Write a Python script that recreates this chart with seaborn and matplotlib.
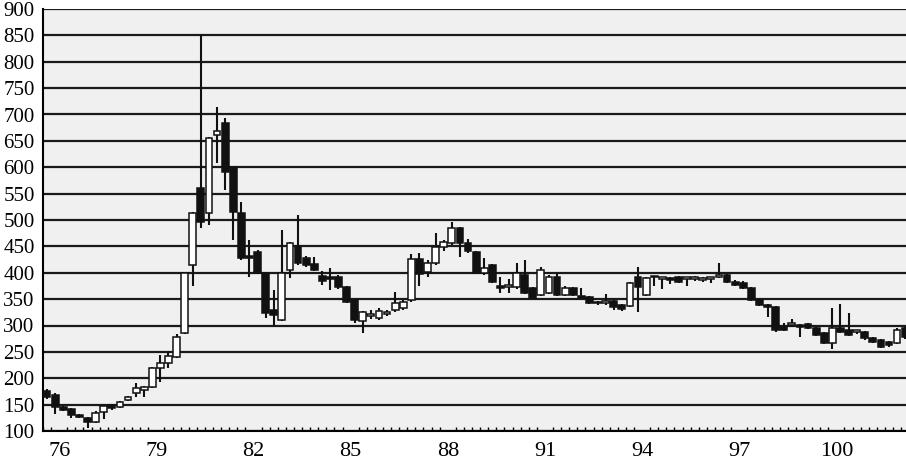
import numpy as np
import pandas as pd
import seaborn as sns
import matplotlib.pyplot as plt
from matplotlib.ticker import MultipleLocator

# Quarterly gold price candles, starting 1975 Q3
opens = [175, 168, 145, 141, 130, 124, 117, 136, 149, 145,
         159, 172, 178, 184, 219, 229, 240, 286, 415, 560,
         513, 661, 684, 601, 513, 430, 439, 399, 329, 310,
         405, 449, 428, 417, 394, 391, 392, 373, 348, 308,
         318, 314, 322, 329, 333, 348, 426, 402, 419, 449,
         456, 485, 456, 439, 399, 415, 374, 373, 373, 396,
         371, 358, 362, 392, 358, 371, 356, 354, 344, 343,
         346, 339, 337, 392, 358, 391, 389, 389, 392, 389,
         388, 387, 388, 392, 396, 383, 380, 371, 348, 339,
         335, 297, 301, 300, 303, 295, 286, 267, 295, 292,
         288, 288, 276, 273, 269, 267, 295]
highs = [180, 172, 147, 143, 132, 126, 138, 150, 151, 157,
         166, 191, 186, 222, 244, 251, 284, 400, 515, 850,
         658, 714, 693, 603, 534, 462, 444, 401, 367, 481,
         458, 510, 432, 430, 403, 409, 395, 375, 350, 328,
         329, 334, 330, 364, 348, 436, 438, 424, 476, 462,
         496, 487, 464, 441, 428, 417, 392, 388, 418, 424,
         373, 410, 395, 400, 374, 373, 372, 356, 346, 360,
         348, 341, 383, 411, 392, 394, 392, 392, 394, 392,
         393, 391, 392, 418, 398, 386, 384, 373, 350, 341,
         337, 305, 312, 302, 305, 297, 288, 333, 341, 324,
         292, 290, 278, 275, 271, 295, 298]
lows = [160, 133, 138, 125, 124, 106, 115, 122, 140, 143,
        157, 165, 165, 182, 193, 219, 238, 284, 375, 484,
        490, 608, 557, 462, 425, 392, 397, 314, 301, 308,
        390, 415, 410, 403, 377, 367, 370, 343, 305, 286,
        312, 310, 318, 326, 330, 345, 375, 392, 415, 442,
        452, 430, 438, 397, 396, 380, 362, 362, 370, 360,
        350, 356, 360, 355, 356, 356, 350, 340, 339, 338,
        330, 327, 335, 326, 355, 375, 369, 378, 380, 374,
        385, 383, 380, 390, 381, 375, 369, 346, 337, 316,
        288, 290, 298, 278, 293, 280, 265, 255, 285, 280,
        284, 273, 266, 257, 260, 265, 275]
closes = [165, 145, 140, 130, 126, 117, 134, 147, 143, 155,
          164, 181, 183, 219, 229, 242, 278, 399, 513, 496,
          655, 669, 591, 515, 428, 428, 399, 324, 320, 399,
          456, 418, 415, 405, 385, 389, 373, 345, 310, 326,
          321, 327, 325, 342, 345, 426, 398, 419, 449, 458,
          485, 456, 441, 399, 409, 382, 372, 374, 399, 362,
          352, 405, 392, 358, 371, 358, 353, 343, 342, 346,
          335, 331, 380, 373, 390, 392, 390, 387, 383, 390,
          392, 388, 390, 396, 383, 377, 371, 348, 339, 335,
          292, 292, 305, 298, 295, 282, 267, 295, 288, 282,
          289, 276, 269, 259, 263, 292, 278]

year_ticks = [76, 79, 82, 85, 88, 91, 94, 97, 100]
price_ticks = list(range(100, 901, 50))

quarters = pd.period_range('1975Q3', periods=len(opens), freq='Q')
df = pd.DataFrame({
    'open': opens, 'high': highs, 'low': lows, 'close': closes,
})
df['t'] = quarters.year - 1900 + (quarters.quarter - 1) * 0.25 + 0.125
df['up'] = df['close'] >= df['open']
df['bottom'] = df[['open', 'close']].min(axis=1)
df['height'] = (df['close'] - df['open']).abs().clip(lower=3)

sns.set_theme(style='white')
plt.rcParams['font.family'] = ['Liberation Serif', 'DejaVu Serif']

fig = plt.figure(figsize=(9.06, 4.65), dpi=100)
ax = fig.add_axes([43 / 906, 34 / 465, 863 / 906, 422 / 465])
ax.set_facecolor('#f0f0f0')

# horizontal grid
for p in price_ticks:
    ax.axhline(p, color='#1a1a1a', lw=1.6, zorder=1)

# wicks
ax.vlines(df['t'], df['low'], df['high'], color='#111111', lw=1.5, zorder=2)

# bodies
up = df[df['up']]
dn = df[~df['up']]
ax.bar(up['t'], up['height'], bottom=up['bottom'], width=0.21,
       color='white', edgecolor='#111111', linewidth=1.1, zorder=3)
ax.bar(dn['t'], dn['height'], bottom=dn['bottom'], width=0.21,
       color='#111111', edgecolor='#111111', linewidth=1.1, zorder=3)

ax.set_xlim(75.5, 102.15)
ax.set_ylim(100, 900)
ax.set_yticks(price_ticks)
ax.set_xticks(year_ticks)
ax.set_xticklabels([str(y) for y in year_ticks])
ax.xaxis.set_minor_locator(MultipleLocator(0.25))
ax.tick_params(axis='y', length=0, pad=6, labelsize=15, colors='black')
ax.tick_params(axis='x', which='major', direction='in', length=4, width=1,
               pad=8, labelsize=16, colors='black')
ax.tick_params(axis='x', which='minor', direction='in', length=3, width=1,
               color='black', bottom=True)

for side in ['left', 'bottom']:
    ax.spines[side].set_visible(True)
    ax.spines[side].set_color('black')
    ax.spines[side].set_linewidth(1.5)
ax.spines['top'].set_visible(False)
ax.spines['right'].set_visible(False)

fig.savefig('out.png', dpi=100)
